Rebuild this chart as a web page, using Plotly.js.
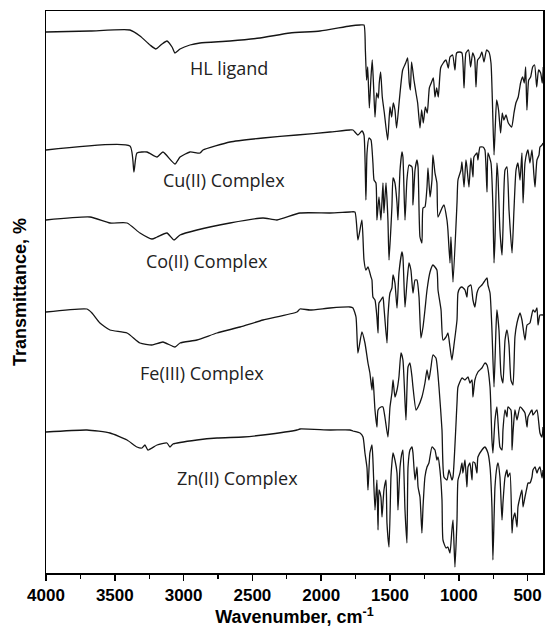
<!DOCTYPE html>
<html>
<head>
<meta charset="utf-8">
<script src="https://cdn.plot.ly/plotly-3.0.1.min.js"></script>
<style>html,body{margin:0;padding:0;background:#fff;}#chart{width:548px;height:633px;}</style>
</head>
<body>
<div id="chart"></div>
<script>
// Series names and label positions (wavenumber, stacked transmittance)
const seriesNames = ["HL ligand", "Cu(II) Complex", "Co(II) Complex", "Fe(III) Complex", "Zn(II) Complex"];
const labelWn = [2670, 2706, 2830, 2866, 2605];
const labelT = [505, 393, 312, 200, 95];

// HL ligand
const hlWn = [4000,3680,3390,3317,3244,3201,3157,3121,3084,3063,3026,2954,2881,2663,2445,2227,2009,1791,1718,
1689,1679,1670,1662,1650,1638,1629,1619,1609,1597,1585,1578,1568,1556,1541,1517,1500,1488,1476,1464,1452,1432,1408,1386,1372,1360,1352,1343,1326,1311,1299,1282,1270,1258,1243,1229,1214,1200,1185,1173,1161,1149,1132,1113,1093,1076,1064,1045,1028,1016,996,977,962,948,929,914,899,885,875,863,846,832,817,798,781,766,756,744,735,725,711,696,684,672,657,640,616,599,585,568,551,536,524,514,505,492,478,463,449,434,420,405,393,386];
const hlT = [541,542,543,537,528,524,529,532,526,520,524,528,530,532,535,540,542,547,548,
548,523,493,506,465,496,513,486,456,480,475,490,501,476,460,433,466,456,470,463,445,473,503,510,515,490,483,511,493,480,470,445,463,450,466,460,485,490,495,476,485,476,505,510,513,505,516,518,503,520,521,520,485,520,523,506,520,515,486,513,516,521,511,523,521,510,473,418,446,473,463,440,460,453,458,450,446,460,470,476,490,496,490,506,463,493,496,506,508,486,503,500,490,506];

// Cu(II) complex
const cuWn = [4000,3390,3361,3339,3266,3193,3150,3063,3026,2954,2881,2859,2663,2423,2176,1936,1791,1769,1733,1704,1689,1675,1667,1653,1638,1624,1616,1602,1595,1580,1566,1551,1544,1529,1515,1507,1486,1478,1464,1449,1442,1427,1413,1406,1391,1377,1362,1340,1333,1318,1304,1296,1282,1268,1260,1246,1231,1224,1209,1195,1188,1173,1159,1151,1122,1108,1086,1079,1064,1057,1042,1013,1006,984,977,962,948,941,926,912,897,890,868,861,846,824,810,795,788,766,752,744,737,723,715,701,686,679,664,650,635,613,599,584,570,555,541,533,519,504,497,483,468,454,446,432,417,410,395,388];
const cuT = [423,427,401,420,421,416,421,409,416,421,420,423,431,435,438,441,443,443,438,442,438,373,420,435,433,410,393,390,353,376,353,390,360,390,353,313,366,395,390,370,353,403,421,416,353,393,408,406,368,403,413,406,336,330,365,366,386,405,376,393,418,400,390,356,365,368,353,343,310,336,291,370,393,403,411,386,413,406,386,415,396,416,420,413,426,426,423,381,420,410,366,310,333,410,396,343,318,343,403,406,363,320,363,403,410,393,420,370,410,421,423,410,423,398,386,413,418,426,428,430];

// Co(II) complex
const coWn = [4000,3680,3535,3411,3317,3230,3193,3121,3070,3026,2903,2663,2423,2321,2154,1936,1791,1755,1733,1704,1689,1675,1660,1638,1631,1624,1609,1595,1587,1580,1566,1551,1544,1522,1515,1500,1486,1478,1464,1449,1435,1413,1406,1391,1377,1362,1348,1333,1318,1304,1289,1275,1260,1246,1231,1209,1188,1159,1151,1129,1115,1093,1079,1064,1050,1035,1013,1006,991,977,955,941,933,912,897,883,868,854,832,817,795,788,773,759,744,730,723,708,693,679,664,650,635,621,606,592,577,555,541,519,504,483,461,446,432,424,410,388];
const coT = [353,356,350,350,340,334,336,340,333,338,343,350,355,353,360,360,361,361,333,353,313,303,306,296,293,276,273,256,240,270,273,276,266,230,256,280,285,298,290,265,300,321,316,266,290,310,303,280,293,293,276,235,246,263,283,301,308,303,283,263,233,236,240,226,213,228,253,280,285,286,283,276,286,288,273,266,280,285,288,291,295,288,280,243,186,243,263,243,198,190,233,243,228,193,188,236,250,260,253,233,248,250,263,261,265,248,258,258];

// Fe(III) complex
const feWn = [4000,3702,3666,3608,3535,3411,3317,3230,3150,3063,3026,2903,2757,2590,2423,2176,2154,2082,1936,1791,1769,1747,1733,1704,1682,1660,1646,1631,1624,1609,1595,1587,1566,1551,1537,1515,1500,1486,1478,1464,1449,1435,1420,1406,1384,1369,1355,1340,1333,1311,1296,1268,1246,1231,1217,1202,1188,1166,1144,1122,1108,1086,1071,1050,1042,1013,1006,977,955,933,919,904,897,883,861,832,810,795,773,759,752,737,723,701,686,679,664,650,643,621,613,606,592,577,555,533,519,504,497,468,461,432,410,395,388];
const feT = [261,264,260,250,243,240,230,228,231,226,230,233,240,246,253,261,264,263,265,266,265,256,220,241,230,210,200,183,196,163,146,163,166,166,156,136,166,180,193,176,183,196,220,213,153,206,210,196,186,163,166,176,190,203,193,206,218,215,186,143,96,93,103,93,96,170,186,195,193,196,190,193,176,193,201,205,210,208,186,133,120,153,166,126,123,143,163,156,166,163,123,140,163,153,166,163,160,146,156,163,158,163,140,136,146];

// Zn(II) complex
const znWn = [4000,3702,3535,3411,3339,3302,3281,3259,3193,3121,3099,3077,2903,2757,2568,2423,2176,2154,1936,1791,1769,1718,1696,1682,1667,1660,1646,1631,1624,1609,1595,1587,1580,1566,1558,1544,1529,1522,1507,1493,1486,1478,1464,1449,1442,1427,1413,1406,1391,1377,1369,1355,1340,1333,1318,1304,1296,1282,1268,1260,1246,1231,1217,1195,1173,1159,1151,1137,1122,1115,1093,1079,1064,1050,1042,1028,1013,1006,991,977,970,955,941,933,919,904,897,883,868,861,832,810,788,773,759,752,737,723,715,701,686,679,664,650,643,628,613,606,592,577,570,555,541,533,519,504,497,483,468,461,446,432,424,410,395,388];
const znT = [141,143,140,133,126,125,128,123,128,130,126,129,133,135,136,138,143,144,143,143,142,140,136,120,105,83,120,128,113,63,93,43,83,76,56,83,93,50,26,96,110,120,113,100,63,106,120,123,63,30,106,123,126,120,93,106,86,76,40,66,96,106,110,126,123,113,116,103,73,33,25,26,20,43,53,6,53,93,100,110,100,113,86,106,110,93,111,110,100,116,123,126,120,106,66,13,86,106,110,96,53,70,96,103,96,100,40,53,60,46,66,76,83,66,76,86,90,90,96,103,106,100,103,106,95,103];

const xs = [hlWn, cuWn, coWn, feWn, znWn];
const ys = [hlT, cuT, coT, feT, znT];

const traces = xs.map((x, i) => ({
  x: x, y: ys[i], type: 'scatter', mode: 'lines', name: seriesNames[i],
  line: {color: '#151515', width: 1.3, shape: 'spline', smoothing: 0.5}, hoverinfo: 'skip'
}));

const annotations = seriesNames.map((s, i) => ({
  x: labelWn[i], y: labelT[i], xref: 'x', yref: 'y', text: s, showarrow: false,
  font: {family: 'Open Sans, sans-serif', size: 18, color: '#222'}
}));

const layout = {
  width: 548, height: 633,
  margin: {l: 46, r: 5, t: 11, b: 60},
  paper_bgcolor: '#fff', plot_bgcolor: '#fff',
  showlegend: false,
  annotations: annotations,
  xaxis: {
    range: [4000, 388], tickmode: 'linear', tick0: 0, dtick: 500,
    ticks: 'outside', ticklen: 6, tickwidth: 1.5, tickcolor: '#000',
    showline: true, linewidth: 1.5, linecolor: '#000', mirror: true,
    showgrid: false, zeroline: false,
    tickfont: {family: 'Liberation Sans, Arial, sans-serif', size: 17, weight: 700, color: '#000'},
    minor: {dtick: 250, ticks: 'outside', ticklen: 4, tickwidth: 1.2, tickcolor: '#000', showgrid: false},
    title: {text: 'Wavenumber, cm<sup>-1</sup>', standoff: 5,
      font: {family: 'Liberation Sans, Arial, sans-serif', size: 18, weight: 700, color: '#000'}}
  },
  yaxis: {
    range: [0, 562], showticklabels: false, ticks: '',
    showline: true, linewidth: 1.5, linecolor: '#000', mirror: true,
    showgrid: false, zeroline: false,
    title: {text: 'Transmittance, %', standoff: 13,
      font: {family: 'Liberation Sans, Arial, sans-serif', size: 18, weight: 700, color: '#000'}}
  }
};

Plotly.newPlot('chart', traces, layout, {staticPlot: true, displayModeBar: false});
</script>
</body>
</html>
